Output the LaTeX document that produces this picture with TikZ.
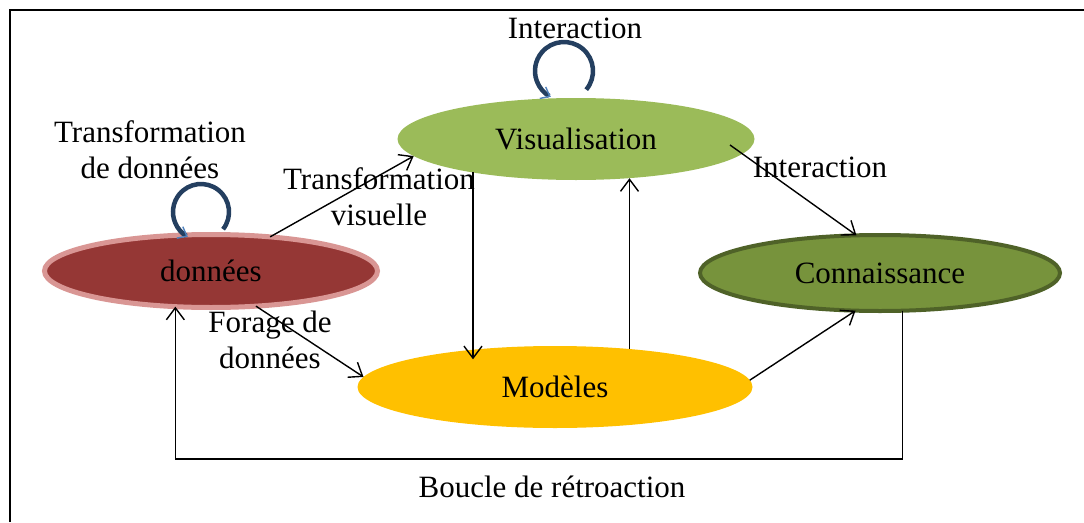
\documentclass[tikz,border=0pt]{standalone}
\usepackage{fontspec}
\setmainfont{Liberation Serif}
\usetikzlibrary{shapes.geometric,arrows.meta,calc}
\definecolor{ddred}{HTML}{953735}
\definecolor{ddpink}{HTML}{D99694}
\definecolor{visgreen}{HTML}{9BBB59}
\definecolor{conngreen}{HTML}{77933C}
\definecolor{connedge}{HTML}{4F6228}
\definecolor{modgold}{HTML}{FFC000}
\definecolor{loopdark}{HTML}{243F60}
\definecolor{looplight}{HTML}{4F81BD}
\begin{document}
\begin{tikzpicture}[x=1pt,y=1pt,
  lbl/.style={font=\fontsize{31}{36}\selectfont, align=center, inner sep=0pt},
  blob/.style={ellipse, inner sep=0pt, outer sep=0pt, font=\fontsize{31}{36}\selectfont},
  arr/.style={line width=1.4pt, -{Straight Barb[length=12pt,width=18pt]}},
  selfloop/.style={draw=loopdark, line width=4.5pt,
    -{Straight Barb[length=8pt,width=13pt,line width=1.4pt,color=looplight]}}]
\useasboundingbox (0,0) rectangle (1084,-522);

% frame
\draw[line width=2pt] (10,-522) -- (10,-10) -- (1084,-10);

% stages
\node[blob, fill=ddred, draw=ddpink, line width=5pt,
      minimum width=333pt, minimum height=73pt] (don) at (211,-271) {données};
\node[blob, fill=visgreen, minimum width=357pt, minimum height=82pt] (vis) at (576,-139) {Visualisation};
\node[blob, fill=conngreen, draw=connedge, line width=4pt,
      minimum width=360pt, minimum height=76pt] (conn) at (880,-273) {Connaissance};
\node[blob, fill=modgold, minimum width=395pt, minimum height=82pt] (mod) at (555,-387) {Modèles};

% self loops
\coordinate (loopd) at (201,-212);
\coordinate (loopv) at (564,-71);
\draw[selfloop] ([shift={(-38:28)}]loopd) arc[start angle=-38, end angle=242, radius=28];
\draw[selfloop] ([shift={(-40:29)}]loopv) arc[start angle=-40, end angle=243, radius=29];

% transitions
\draw[arr] (don.30) -- (vis.186);
\draw[arr, shorten >=-10pt] (vis.198.7) -- (vis.198.7 |- mod.154.6);
\draw[arr] (mod.27.6) -- (mod.27.6 |- vis.323);
\draw[arr] ($(vis.center)+(154,-6)$) -- (conn.122);
\draw[arr] (mod.2.7) -- (conn.237);
\draw[arr] (don.322.4) -- (mod.177.4);

% feedback loop
\coordinate (fb) at (0,-459);
\draw[arr] (conn.301.2) -- (conn.301.2 |- fb) -- (don.225 |- fb) -- (don.225);

% labels
\node[lbl] (ltd) at (150,-150) {Transformation\\de données};
\node[lbl] (ltv) at (379,-197) {Transformation\\visuelle};
\node[lbl] (lfd) at (270,-340) {Forage de\\données};
\node[lbl] (li1) at (575,-28) {Interaction};
\node[lbl] (li2) at (820,-167) {Interaction};
\node[lbl] (lbr) at (552,-487) {Boucle de rétroaction};
\end{tikzpicture}
\end{document}
